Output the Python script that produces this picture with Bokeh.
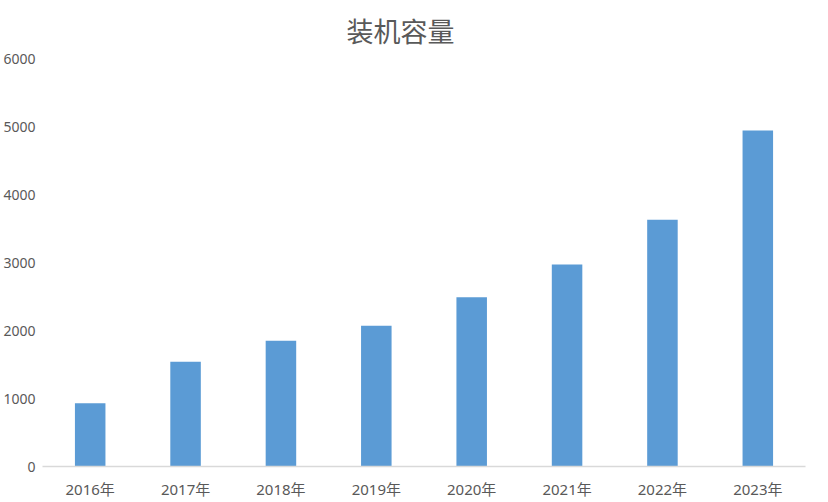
from bokeh.plotting import figure
from bokeh.models import Range1d, FixedTicker, Title
from bokeh.embed import file_html
from bokeh.resources import INLINE

title_text = "装机容量"
years = ["2016年", "2017年", "2018年", "2019年", "2020年", "2021年", "2022年", "2023年"]
capacity = [930, 1540, 1850, 2070, 2490, 2970, 3630, 4940]
y_ticks = [0, 1000, 2000, 3000, 4000, 5000, 6000]

FONT = "Noto Sans, Noto Sans CJK SC"
TXT = "#595959"

p = figure(x_range=years, y_range=Range1d(0, 6000), width=820, height=502,
           output_backend="svg", toolbar_location=None, title=None,
           min_border_left=0, min_border_right=15, min_border_top=58, min_border_bottom=36)

t = Title(text=title_text, align="left", offset=304, text_font=FONT, text_font_size="27px",
          text_font_style="normal", text_color=TXT, standoff=18, text_line_height=1.6)
p.add_layout(t, "above")

p.vbar(x=years, top=capacity, width=0.32, color="#5B9BD5", line_color=None)

p.x_range.range_padding = 0
p.outline_line_color = None
p.grid.grid_line_color = None

p.yaxis.ticker = FixedTicker(ticks=y_ticks)
p.yaxis.axis_line_color = None
p.yaxis.major_tick_line_color = None
p.yaxis.minor_tick_line_color = None
p.yaxis.major_tick_out = 0
p.yaxis.major_label_standoff = 7
p.yaxis.major_label_text_font = FONT
p.yaxis.major_label_text_font_size = "14px"
p.yaxis.major_label_text_color = TXT

p.xaxis.axis_line_color = "#D9D9D9"
p.xaxis.axis_line_width = 1.5
p.xaxis.major_tick_line_color = None
p.xaxis.major_tick_out = 0
p.xaxis.major_label_standoff = 12
p.xaxis.major_label_text_font = FONT
p.xaxis.major_label_text_font_size = "15px"
p.xaxis.major_label_text_color = TXT

open("out.html", "w").write(file_html(p, INLINE))
